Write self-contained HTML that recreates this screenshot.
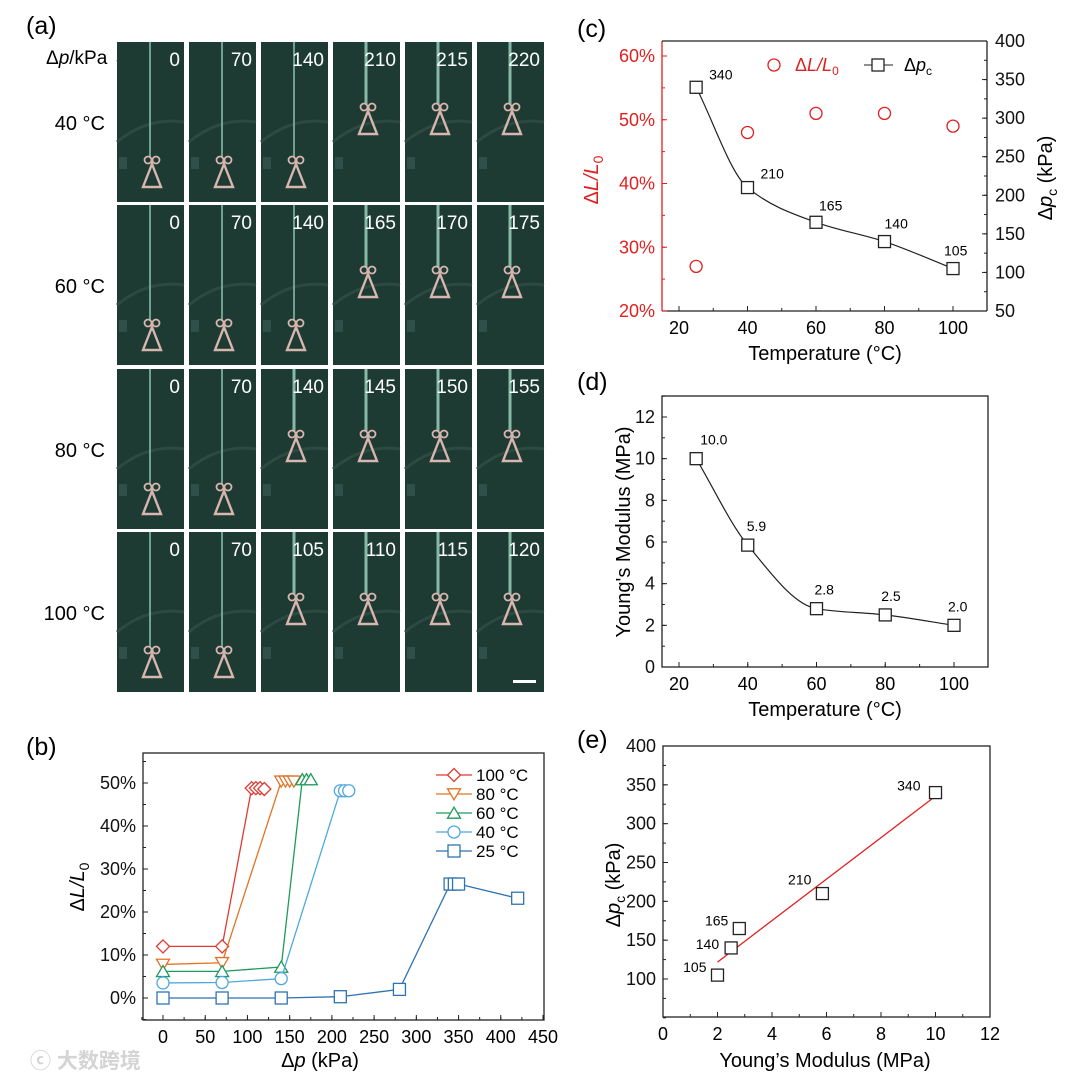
<!DOCTYPE html>
<html><head><meta charset="utf-8"><style>
html,body{margin:0;padding:0;background:#fff;}
svg{display:block;font-family:"Liberation Sans","Noto Sans CJK SC",sans-serif;}
</style></head><body>
<svg id="fig" width="1080" height="1079" viewBox="0 0 1080 1079" xmlns="http://www.w3.org/2000/svg"></svg>
<script>
// ---- panel (a) data ----
const aTemps = ["40 °C","60 °C","80 °C","100 °C"];
const aPressures = [[0,70,140,210,215,220],[0,70,140,165,170,175],[0,70,140,145,150,155],[0,70,105,110,115,120]];
const aLifted = [[0,0,0,1,1,1],[0,0,0,1,1,1],[0,0,1,1,1,1],[0,0,1,1,1,1]];
// ---- panel (b) data ----
const bSeriesNames = ["100 °C","80 °C","60 °C","40 °C","25 °C"];
const bX100 = [0,70,105,110,115,120];
const bY100 = [12,12,48.8,48.8,48.8,48.6];
const bX80 = [0,70,140,145,150,155];
const bY80 = [7.8,8.2,50.4,50.4,50.4,50.4];
const bX60 = [0,70,140,165,170,175];
const bY60 = [6.2,6.2,7.2,50.8,50.8,50.8];
const bX40 = [0,70,140,210,215,220];
const bY40 = [3.5,3.6,4.5,48.2,48.2,48.2];
const bX25 = [0,70,140,210,280,340,345,350,420];
const bY25 = [0,0,0,0.3,2,26.5,26.5,26.5,23.2];
const bXTicks = [0,50,100,150,200,250,300,350,400,450];
const bYTicks = [0,10,20,30,40,50];
// ---- panel (c) data ----
const cTemps = [25,40,60,80,100];
const cStrain = [27,48,51,51,49];
const cPc = [340,210,165,140,105];
const cXTicks = [20,40,60,80,100];
const cYLTicks = [20,30,40,50,60];
const cYRTicks = [50,100,150,200,250,300,350,400];
// ---- panel (d) data ----
const dTemps = [25,40,60,80,100];
const dModulus = [10.0,5.85,2.8,2.5,2.0];
const dLabels = ["10.0","5.9","2.8","2.5","2.0"];
const dXTicks = [20,40,60,80,100];
const dYTicks = [0,2,4,6,8,10,12];
// ---- panel (e) data ----
const eModulus = [10.0,5.85,2.8,2.5,2.0];
const ePc = [340,210,165,140,105];
const eXTicks = [0,2,4,6,8,10,12];
const eYTicks = [100,150,200,250,300,350,400];

const NS="http://www.w3.org/2000/svg";
const svg=document.getElementById('fig');
function el(tag,attrs,parent,text){const e=document.createElementNS(NS,tag);for(const k in attrs)e.setAttribute(k,attrs[k]);if(text!==undefined)e.textContent=text;(parent||svg).appendChild(e);return e;}
function grp(name,parent){const g=el('g',{},parent);return g;}
function lin(d0,d1,r0,r1){return v=>r0+(v-d0)*(r1-r0)/(d1-d0);}

// ---------- panel (a) ----------
const gA=grp('panel-a-photo-grid');
const lblA=el('text',{x:26,y:34,'font-size':25},gA,'(a)');


const hdr=el('text',{x:46,y:64,'font-size':19},gA);


el('tspan',{},hdr,'Δ');el('tspan',{'font-style':'italic'},hdr,'p');el('tspan',{},hdr,'/kPa →');
const colL=[117,189,261,333,405,477], rowT=[42,205,369,532], W=67,H=160;
for(let r=0;r<4;r++){
  const t=el('text',{x:105,y:rowT[r]+88,'font-size':20,'text-anchor':'end'},gA,aTemps[r]);
  
  
  for(let c=0;c<6;c++){
    const x=colL[c],y=rowT[r];
    const ph=grp('photo-r'+(r+1)+'-c'+(c+1),gA);
    el('rect',{x:x,y:y,width:W,height:H,fill:'#1d3a33'},ph);
    el('path',{d:`M${x} ${y+100} q30 -25 ${W} -20`,stroke:'#2c4a42',fill:'none','stroke-width':3},ph);
    el('rect',{x:x+2,y:y+115,width:8,height:12,fill:'#2f5048'},ph);
    const cx=x+35; const by=y+(aLifted[r][c]?92:145);
    el('line',{x1:cx-2,y1:y,x2:cx-2,y2:by-30,stroke:'#86b9a6','stroke-width':aLifted[r][c]?3:1.6},ph);
    el('circle',{cx:cx-4,cy:by-27,r:3.5,fill:'none',stroke:'#d8b6b0','stroke-width':1.8},ph);
    el('circle',{cx:cx+4,cy:by-27,r:3.5,fill:'none',stroke:'#d8b6b0','stroke-width':1.8},ph);
    el('path',{d:`M${cx} ${by-23} L${cx-9} ${by} L${cx+9} ${by} Z`,fill:'none',stroke:'#d8b6b0','stroke-width':2.4},ph);
    el('text',{x:x+W-4,y:y+24,'font-size':19,'text-anchor':'end',fill:'#fff'},ph,String(aPressures[r][c]));
  }
}
const sb=el('rect',{x:513,y:680,width:23,height:3,fill:'#fff'},gA);



function axes(g,L,T,R,B){
  el('rect',{x:L,y:T,width:R-L,height:B-T,fill:'none',stroke:'#222','stroke-width':1.3},g);
}
function xTicks(g,ticks,sx,B,minorStep,lo,hi){
  ticks.forEach(v=>{el('line',{x1:sx(v),y1:B,x2:sx(v),y2:B-5,stroke:'#222'},g);
    const t=el('text',{x:sx(v),y:B+23,'font-size':18,'text-anchor':'middle'},g,String(v));
    });
  for(let v=lo;v<=hi+1e-9;v+=minorStep) el('line',{x1:sx(v),y1:B,x2:sx(v),y2:B-3,stroke:'#222'},g);
}
function yTicks(g,ticks,sy,L,minorStep,lo,hi,fmt,side,color){
  const dir=side==='r'?-1:1;
  ticks.forEach(v=>{el('line',{x1:L,y1:sy(v),x2:L+5*dir,y2:sy(v),stroke:color||'#222'},g);
    const t=el('text',{x:side==='r'?L+8:L-7,y:sy(v)+6,'font-size':18,'text-anchor':side==='r'?'start':'end',fill:color||'#111'},g,fmt?fmt(v):String(v));
    });
  for(let v=lo;v<=hi+1e-9;v+=minorStep) el('line',{x1:L,y1:sy(v),x2:L+3*dir,y2:sy(v),stroke:color||'#222'},g);
}
function marker(g,type,x,y,color){
  const s=6.5;
  if(type==='diamond') return el('path',{d:`M${x} ${y-s} L${x+s} ${y} L${x} ${y+s} L${x-s} ${y} Z`,fill:'#fff',stroke:color,'stroke-width':1.3},g);
  if(type==='tdown') return el('path',{d:`M${x-s} ${y-s*0.8} L${x+s} ${y-s*0.8} L${x} ${y+s*0.9} Z`,fill:'#fff',stroke:color,'stroke-width':1.3},g);
  if(type==='tup') return el('path',{d:`M${x-s} ${y+s*0.8} L${x+s} ${y+s*0.8} L${x} ${y-s*0.9} Z`,fill:'#fff',stroke:color,'stroke-width':1.3},g);
  if(type==='circle') return el('circle',{cx:x,cy:y,r:s-0.5,fill:'#fff',stroke:color,'stroke-width':1.3},g);
  return el('rect',{x:x-s+0.5,y:y-s+0.5,width:2*s-1,height:2*s-1,fill:'#fff',stroke:color,'stroke-width':1.3},g);
}
// monotone cubic (Fritsch-Carlson) in pixel space
function monotone(pts){
  const n=pts.length,dx=[],m=[],t=new Array(n);
  for(let i=0;i<n-1;i++){dx[i]=pts[i+1][0]-pts[i][0];m[i]=(pts[i+1][1]-pts[i][1])/dx[i];}
  t[0]=m[0];t[n-1]=m[n-2];
  for(let i=1;i<n-1;i++){t[i]=(m[i-1]*m[i]<=0)?0:3*(dx[i-1]+dx[i])/((2*dx[i]+dx[i-1])/m[i-1]+(dx[i]+2*dx[i-1])/m[i]);}
  let d=`M${pts[0][0]} ${pts[0][1]}`;
  for(let i=0;i<n-1;i++){const h=dx[i]/3;
    d+=` C${pts[i][0]+h} ${pts[i][1]+t[i]*h} ${pts[i+1][0]-h} ${pts[i+1][1]-t[i+1]*h} ${pts[i+1][0]} ${pts[i+1][1]}`;}
  return d;
}

// ---------- panel (b) ----------
const gB=grp('panel-b-chart');
let t=el('text',{x:26,y:755,'font-size':25},gB,'(b)');
const bL=143,bR=544,bT=753,bB=1020;
const bsx=lin(0,450,163,543), bsy=lin(0,50,998,783);
axes(gB,bL,bT,bR,bB);
xTicks(gB,bXTicks,bsx,bB,25,-25,450);
yTicks(gB,bYTicks,bsy,bL,5,-5,55,v=>v+'%');
const bSets=[[bX100,bY100,'#e03a32','diamond'],[bX80,bY80,'#e27326','tdown'],[bX60,bY60,'#1e9a5c','tup'],[bX40,bY40,'#4ea8de','circle'],[bX25,bY25,'#2f72b3','square']];
bSets.forEach((s,i)=>{
  const g=grp('series-'+bSeriesNames[i].replace(' °C','c'),gB);
  const d=s[0].map((x,j)=>(j?'L':'M')+bsx(x)+' '+bsy(s[1][j])).join(' ');
  el('path',{d:d,fill:'none',stroke:s[2],'stroke-width':1.3},g);
  s[0].forEach((x,j)=>{const m=marker(g,s[3],bsx(x),bsy(s[1][j]),s[2]);});
  const ly=775+i*19;
  const lg=grp('legend-entry-'+bSeriesNames[i].replace(' °C','c'),gB);
  el('line',{x1:436,y1:ly,x2:472,y2:ly,stroke:s[2],'stroke-width':1.3},lg);
  marker(lg,s[3],454,ly,s[2]);
  el('text',{x:476,y:ly+6,'font-size':17},lg,bSeriesNames[i]);
});
t=el('text',{transform:'translate(84,887) rotate(-90)','font-size':20,'text-anchor':'middle'},gB);

el('tspan',{},t,'Δ');el('tspan',{'font-style':'italic'},t,'L/L');el('tspan',{'font-size':14,dy:5},t,'0');
t=el('text',{x:320,y:1067,'font-size':20,'text-anchor':'middle'},gB);

el('tspan',{},t,'Δ');el('tspan',{'font-style':'italic'},t,'p');el('tspan',{},t,' (kPa)');
t=el('text',{x:30,y:1068,'font-size':21,fill:'#d4d4d4','font-weight':'bold'},gB,'ⓒ 大数跨境');


// ---------- panel (c) ----------
const gC=grp('panel-c-chart');
t=el('text',{x:577,y:37,'font-size':25},gC,'(c)');
const cL=662,cR=987,cT=41,cB=311;
const csx=lin(20,100,679,953), csyL=lin(20,60,311,56), csyR=lin(50,400,311,41);
el('line',{x1:cL,y1:cT,x2:cL,y2:cB,stroke:'#e02020','stroke-width':1.3},gC);
el('line',{x1:cL,y1:cB,x2:cR,y2:cB,stroke:'#222','stroke-width':1.3},gC);
el('line',{x1:cR,y1:cT,x2:cR,y2:cB,stroke:'#222','stroke-width':1.3},gC);
el('line',{x1:cL,y1:cT,x2:cR,y2:cT,stroke:'#222','stroke-width':1.3},gC);
xTicks(gC,cXTicks,csx,cB,10,20,100);
yTicks(gC,cYLTicks,csyL,cL,5,20,60,v=>v+'%','l','#e02020');
yTicks(gC,cYRTicks,csyR,cR,25,50,400,null,'r');
const gCs=grp('series-strain',gC);
cTemps.forEach((x,i)=>{const m=marker(gCs,'circle',csx(x),csyL(cStrain[i]),'#e02020');});
const gCp=grp('series-critical-pressure',gC);
el('path',{d:monotone(cTemps.map((x,i)=>[csx(x),csyR(cPc[i])])),fill:'none',stroke:'#222','stroke-width':1.2},gCp);
const cLblDx=[13,13,3,0,-9], cLblDy=[-8,-9,-12,-13,-13];
cTemps.forEach((x,i)=>{const m=marker(gCp,'square',csx(x),csyR(cPc[i]),'#222');
  el('text',{x:csx(x)+cLblDx[i],y:csyR(cPc[i])+cLblDy[i],'font-size':14},gCp,String(cPc[i]));});
let lg=grp('legend-entry-strain',gC);
marker(lg,'circle',774,65,'#e02020');
t=el('text',{x:795,y:71,'font-size':18,fill:'#e02020'},lg);
el('tspan',{},t,'Δ');el('tspan',{'font-style':'italic'},t,'L/L');el('tspan',{'font-size':12,dy:4},t,'0');
lg=grp('legend-entry-pressure',gC);
el('line',{x1:864,y1:65,x2:893,y2:65,stroke:'#222'},lg);
marker(lg,'square',878,65,'#222');
t=el('text',{x:904,y:71,'font-size':18},lg);
el('tspan',{},t,'Δ');el('tspan',{'font-style':'italic'},t,'p');el('tspan',{'font-size':12,dy:4},t,'c');
t=el('text',{transform:'translate(598,180) rotate(-90)','font-size':20,'text-anchor':'middle',fill:'#e02020'},gC);

el('tspan',{},t,'Δ');el('tspan',{'font-style':'italic'},t,'L/L');el('tspan',{'font-size':14,dy:5},t,'0');
t=el('text',{transform:'translate(1052,178) rotate(-90)','font-size':20,'text-anchor':'middle'},gC);

el('tspan',{},t,'Δ');el('tspan',{'font-style':'italic'},t,'p');el('tspan',{'font-size':14,dy:5},t,'c');el('tspan',{dy:-5},t,' (kPa)');
t=el('text',{x:825,y:360,'font-size':20,'text-anchor':'middle'},gC,'Temperature (°C)');


// ---------- panel (d) ----------
const gD=grp('panel-d-chart');
t=el('text',{x:577,y:390,'font-size':25},gD,'(d)');
const dL=662,dR=988,dT=396,dB=667;
const dsx=lin(20,100,679,954), dsy=lin(0,12,667,417);
axes(gD,dL,dT,dR,dB);
xTicks(gD,dXTicks,dsx,dB,10,20,100);
yTicks(gD,dYTicks,dsy,dL,1,0,13);
const gDs=grp('series-modulus',gD);
el('path',{d:monotone(dTemps.map((x,i)=>[dsx(x),dsy(dModulus[i])])),fill:'none',stroke:'#222','stroke-width':1.2},gDs);
const dLblDx=[4,-1,-2,-4,-6];
dTemps.forEach((x,i)=>{const m=marker(gDs,'square',dsx(x),dsy(dModulus[i]),'#222');
  el('text',{x:dsx(x)+dLblDx[i],y:dsy(dModulus[i])-14,'font-size':14},gDs,dLabels[i]);});
t=el('text',{transform:'translate(630,532) rotate(-90)','font-size':20,'text-anchor':'middle'},gD,"Young's Modulus (MPa)");

t=el('text',{x:825,y:716,'font-size':20,'text-anchor':'middle'},gD,'Temperature (°C)');


// ---------- panel (e) ----------
const gE=grp('panel-e-chart');
t=el('text',{x:577,y:748,'font-size':25},gE,'(e)');
const eL=663,eR=990,eT=746,eB=1017;
const esx=lin(0,12,663,990), esy=lin(100,400,979,746);
axes(gE,eL,eT,eR,eB);
xTicks(gE,eXTicks,esx,eB,1,0,12);
yTicks(gE,eYTicks,esy,eL,25,50,400);
const n=eModulus.length, mx=eModulus.reduce((a,b)=>a+b)/n, my=ePc.reduce((a,b)=>a+b)/n;
let sxy=0,sxx=0;eModulus.forEach((x,i)=>{sxy+=(x-mx)*(ePc[i]-my);sxx+=(x-mx)*(x-mx);});
const slope=sxy/sxx, icpt=my-slope*mx;
const xmin=Math.min(...eModulus),xmax=Math.max(...eModulus);
const fit=el('line',{x1:esx(xmin),y1:esy(icpt+slope*xmin),x2:esx(xmax),y2:esy(icpt+slope*xmax),stroke:'#e02020','stroke-width':1.3},gE);

const gEs=grp('series-pressure-vs-modulus',gE);
const eLblDx=[-15,-11,-11,-12,-11], eLblDy=[-2,-9,-3,1,-3];
eModulus.forEach((x,i)=>{const m=marker(gEs,'square',esx(x),esy(ePc[i]),'#222');
  el('text',{x:esx(x)+eLblDx[i],y:esy(ePc[i])+eLblDy[i],'font-size':14,'text-anchor':'end'},gEs,String(ePc[i]));});
t=el('text',{transform:'translate(620,885) rotate(-90)','font-size':20,'text-anchor':'middle'},gE);

el('tspan',{},t,'Δ');el('tspan',{'font-style':'italic'},t,'p');el('tspan',{'font-size':14,dy:5},t,'c');el('tspan',{dy:-5},t,' (kPa)');
t=el('text',{x:825,y:1067,'font-size':20,'text-anchor':'middle'},gE,"Young’s Modulus (MPa)");

</script>
</body></html>
